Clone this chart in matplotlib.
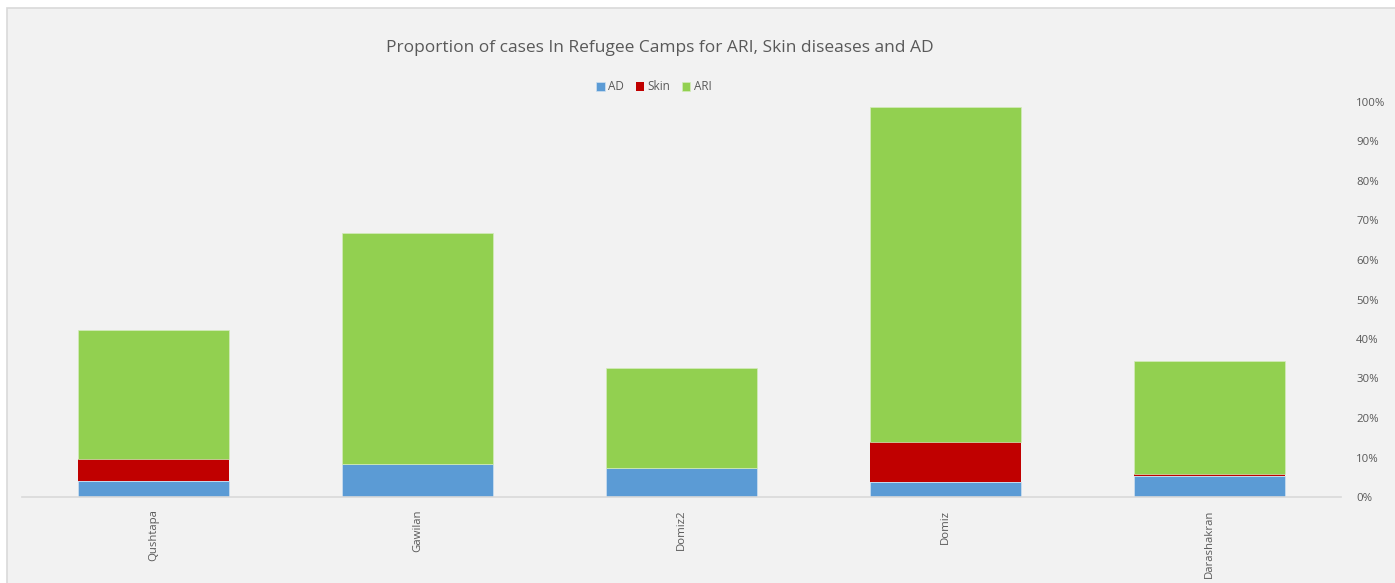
import numpy as np
import matplotlib.pyplot as plt
from matplotlib.patches import Rectangle
from matplotlib.ticker import PercentFormatter

# Data (percent of cases)
camps = ['Qushtapa', 'Gawilan', 'Domiz2', 'Domiz', 'Darashakran']
ad = [4.1, 8.4, 7.4, 3.8, 5.4]
skin = [5.4, 0.0, 0.0, 10.1, 0.3]
ari = [32.9, 58.4, 25.2, 84.8, 28.7]

c_ad = '#5b9bd5'
c_skin = '#c00000'
c_ari = '#92d050'
txt = '#595959'

plt.rcParams['font.family'] = ['Open Sans', 'DejaVu Sans']

W, H = 1395, 583
fig = plt.figure(figsize=(W / 100, H / 100), dpi=100)
fig.patch.set_facecolor('white')

# chart area background with light border
fig.patches.append(Rectangle((7 / W, -0.05), 1.1, (H - 8) / H + 0.05,
                             transform=fig.transFigure, facecolor='#f2f2f2',
                             edgecolor='#d9d9d9', linewidth=1.2, zorder=-10))

ax = fig.add_axes([22 / W, (H - 497) / H, (1341 - 22) / W, (497 - 102) / H])
ax.set_facecolor('none')

x = np.arange(len(camps))
ad = np.array(ad)
skin = np.array(skin)
ari = np.array(ari)
w = 0.572
ax.bar(x, ad, w, color=c_ad, label='AD', edgecolor='#cfe0f0', linewidth=0.5)
ax.bar(x, skin, w, bottom=ad, color=c_skin, label='Skin', linewidth=0)
ax.bar(x, ari, w, bottom=ad + skin, color=c_ari, label='ARI',
       edgecolor='#d4ecbc', linewidth=0.5)

ax.set_xlim(-0.5, len(camps) - 0.5)
ax.set_ylim(0, 100)
ax.set_yticks(np.arange(0, 101, 10))
ax.yaxis.set_major_formatter(PercentFormatter(decimals=0))
ax.yaxis.tick_right()
ax.tick_params(axis='y', length=0, pad=11, labelsize=8.2, labelcolor=txt)

ax.set_xticks(x)
ax.set_xticklabels(camps, rotation=90, va='top')
ax.tick_params(axis='x', length=0, pad=9, labelsize=8.2, labelcolor=txt)

for s in ['top', 'left', 'right']:
    ax.spines[s].set_visible(False)
ax.spines['bottom'].set_color('#d9d9d9')
ax.spines['bottom'].set_linewidth(1.2)

fig.text(660 / W, 1 - 48 / H, 'Proportion of cases In Refugee Camps for ARI, Skin diseases and AD',
         ha='center', va='center', fontsize=12.5, color=txt)

fig.legend(loc='center', bbox_to_anchor=(654 / W, 1 - 87 / H), ncol=3, frameon=False,
           fontsize=8.5, labelcolor=txt, handlelength=0.7, handleheight=0.7,
           handletextpad=0.3, columnspacing=1.0)

fig.savefig('out.png', dpi=100)
